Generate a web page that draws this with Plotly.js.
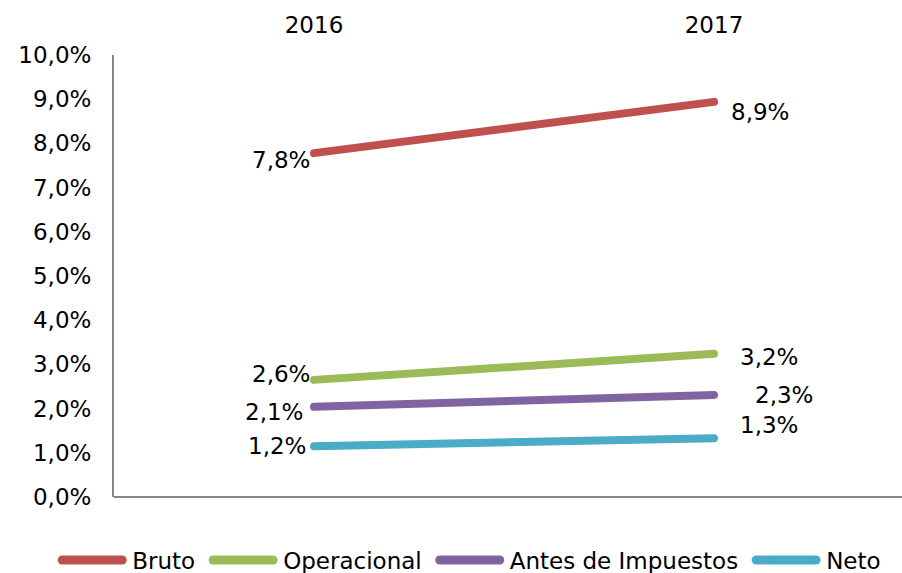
<!DOCTYPE html>
<html>
<head>
<meta charset="utf-8">
<script src="https://cdn.plot.ly/plotly-3.0.1.min.js"></script>
<style>
html,body{margin:0;padding:0;background:#fff;}
#chart{width:902px;height:573px;}
path.js-line{stroke-linecap:round !important;}
.legendlines path{stroke-linecap:round !important;stroke-width:9px !important;}
</style>
</head>
<body>
<div id="chart"></div>
<script>
const years = ["2016", "2017"];
const seriesNames = ["Bruto", "Operacional", "Antes de Impuestos", "Neto"];
const bruto = [7.78, 8.94];
const operacional = [2.65, 3.24];
const antesImpuestos = [2.04, 2.31];
const neto = [1.15, 1.33];
const brutoLabels = ["7,8%", "8,9%"];
const operacionalLabels = ["2,6%", "3,2%"];
const antesLabels = ["2,1%", "2,3%"];
const netoLabels = ["1,2%", "1,3%"];
const yTickValues = [0,1,2,3,4,5,6,7,8,9,10];
const yTickLabels = ["0,0%","1,0%","2,0%","3,0%","4,0%","5,0%","6,0%","7,0%","8,0%","9,0%","10,0%"];

const colors = ["#C0504D", "#9BBB59", "#8064A2", "#4BACC6"];
const values = [bruto, operacional, antesImpuestos, neto];
const labels = [brutoLabels, operacionalLabels, antesLabels, netoLabels];
// label placement offsets (pixels) per series: [first point, second point]
const labelXShift = [[-2, 15], [-2, 24], [-9, 39], [-6, 24]];
const labelYShift = [[-7, -10], [6, -3], [-5, 0], [0, 13]];
const FONT = "Verdana, 'DejaVu Sans', sans-serif";

const traces = seriesNames.map((name, i) => ({
  type: "scatter",
  mode: "lines",
  name: name,
  x: years,
  y: values[i],
  line: {color: colors[i], width: 8},
  cliponaxis: false,
  hoverinfo: "skip"
}));

const annotations = [];
values.forEach((vals, i) => {
  vals.forEach((v, j) => {
    annotations.push({
      x: j, y: v, xref: "x", yref: "y",
      text: labels[i][j], showarrow: false,
      xanchor: j === 0 ? "right" : "left", yanchor: "middle",
      xshift: labelXShift[i][j], yshift: labelYShift[i][j],
      font: {family: FONT, size: 23, color: "#000"}
    });
  });
});

const layout = {
  width: 902, height: 573,
  margin: {l: 114, r: 0, t: 55, b: 76, autoexpand: false},
  paper_bgcolor: "#fff", plot_bgcolor: "#fff",
  font: {family: FONT, size: 23, color: "#000"},
  showlegend: true,
  annotations: annotations,
  legend: {
    orientation: "h", x: 0.454, xanchor: "center", y: -0.094, yanchor: "top",
    font: {family: FONT, size: 23, color: "#000"},
    itemwidth: 60, tracegroupgap: 0, bgcolor: "rgba(0,0,0,0)"
  },
  xaxis: {
    type: "category", side: "top", range: [-0.5, 1.47],
    showline: false, showgrid: false, zeroline: false,
    ticks: "outside", ticklen: 12, tickcolor: "rgba(0,0,0,0)",
    tickfont: {family: FONT, size: 23, color: "#000"},
    fixedrange: true
  },
  yaxis: {
    range: [0, 10], tickvals: yTickValues, ticktext: yTickLabels,
    showline: true, linecolor: "#868686", linewidth: 2,
    showgrid: false, zeroline: true, zerolinecolor: "#868686", zerolinewidth: 2,
    ticks: "outside", ticklen: 16, tickcolor: "rgba(0,0,0,0)",
    tickfont: {family: FONT, size: 23, color: "#000"},
    fixedrange: true
  }
};

Plotly.newPlot("chart", traces, layout, {displayModeBar: false, staticPlot: true}).then(gd => {
  // widen legend spacing a little (gap between swatch and text, and between entries)
  const sb = gd.querySelector(".legend .scrollbox");
  if (sb) sb.removeAttribute("clip-path");
  const items = gd.querySelectorAll(".legend .traces");
  const textGap = 5, itemGap = 8;
  const total = (items.length - 1) * (itemGap + textGap) + textGap;
  items.forEach((g, i) => {
    const m = /translate\(([-\d.]+)[ ,]+([-\d.]+)\)/.exec(g.getAttribute("transform") || "");
    if (m) {
      const nx = parseFloat(m[1]) + i * (itemGap + textGap) - total / 2;
      g.setAttribute("transform", "translate(" + nx + "," + m[2] + ")");
    }
    const t = g.querySelector(".legendtext");
    if (t) t.setAttribute("x", parseFloat(t.getAttribute("x") || 0) + textGap);
  });
});
</script>
</body>
</html>
